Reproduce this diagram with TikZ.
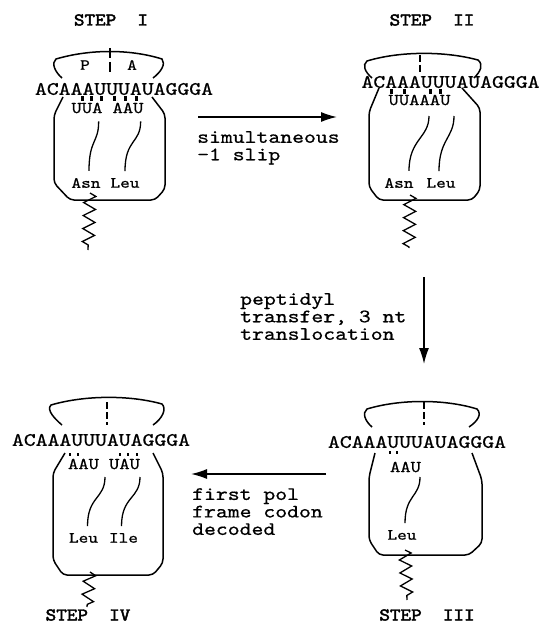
\documentclass[tikz,border=0pt]{standalone}
\usepackage{fontspec}
\usepackage{tikz}
\usetikzlibrary{arrows.meta,decorations.pathmorphing,calc}
\newfontfamily\cour[FakeStretch=1.19,FakeBold=0.7]{lmmono10-regular.otf}
\newfontfamily\courb[FakeStretch=1.12,FakeBold=2.6]{lmmono10-regular.otf}

\tikzset{
    ribo/.style={line width=1.5pt},
    stem/.style={line width=1.3pt},
    seq/.style={inner sep=0pt, font=\cour\fontsize{19}{19}\selectfont},
    anti/.style={inner sep=0pt, font=\cour\fontsize{16.5}{16.5}\selectfont},
    amino/.style={inner sep=0pt, font=\cour\fontsize{15.5}{15.5}\selectfont},
    steplabel/.style={inner sep=0pt, font=\courb\fontsize{18}{18}\selectfont},
    note/.style={inner sep=0pt, align=left, anchor=north west, font=\cour\fontsize{19}{17.5}\selectfont},
    pair/.style={line width=3pt},
    pairdot/.style={line width=2.4pt},
    divide/.style={line width=1.3pt, dash pattern=on 7pt off 3pt},
    chain/.style={line width=1.3pt, decorate, decoration={zigzag, amplitude=6pt, segment length=13pt}},
    flow/.style={line width=1.4pt, -{Latex[length=16pt,width=10pt]}}
}

\begin{document}
\begin{tikzpicture}[x=1pt, y=-1pt]
    \useasboundingbox (0,0) rectangle (544,626);

    % STEP I
    \node[steplabel] (stepI) at (111,20) {STEP~~I};
    \draw[ribo] (62,78) .. controls (55,72) and (51,63) .. (56,59) .. controls (90,49) and (130,49) .. (162,59) .. controls (166,64) and (161,72) .. (153,78); % cap
    \draw[ribo] (110,48) -- (110,58);
    \draw[ribo] (110,62) -- (110,72);
    \node[amino] (pI) at (85,65) {P};
    \node[amino] (aI) at (132,65) {A};
    \node[seq] (mrnaI) at (124,89) {ACAAAUUUAUAGGGA};
    \foreach \x in {82,91,101,114,125,136}
        \draw[pair] (\x,96) -- (\x,101);
    \node[anti] (acIa) at (87,108) {UUA};
    \node[anti] (acIb) at (128,108) {AAU};
    \node[amino] (aaIa) at (86,183) {Asn};
    \node[amino] (aaIb) at (125,183) {Leu};
    \draw[stem] ($(acIa.south east)+(-4,8)$) .. controls +(0,22) and +(0,-32) .. ($(aaIa.north)+(3,-7)$);
    \draw[stem] ($(acIb.south east)+(-3,8)$) .. controls +(0,22) and +(0,-32) .. ($(aaIb.north)+(0,-7)$);
    \draw[ribo, rounded corners=4pt] (63,97) -- (54,115) -- (54,183) -- (70,200) -- (155,200) -- (165,189) -- (165,114) -- (152,97); % body
    \draw[chain] (90,193) -- (88,250);

    % STEP II
    \node[steplabel] (stepII) at (432,20) {STEP~~II};
    \draw[ribo] (372,78) .. controls (365,72) and (362,65) .. (367,61) .. controls (400,51) and (445,51) .. (478,60) .. controls (484,65) and (480,72) .. (474,78); % cap
    \draw[divide] (420,55) -- (420,72);
    \node[seq] (mrnaII) at (450.5,82) {ACAAAUUUAUAGGGA};
    \foreach \x in {391,404,430,440}
        \draw[pair] (\x,89) -- (\x,94);
    \node[anti] (acII) at (419.5,100) {UUAAAU};
    \node[amino] (aaIIa) at (399,183) {Asn};
    \node[amino] (aaIIb) at (441,183) {Leu};
    \draw[stem] (429,116) .. controls +(0,22) and +(0,-32) .. ($(aaIIa.north)+(10,-7)$);
    \draw[stem] (454,116) .. controls +(0,22) and +(0,-32) .. ($(aaIIb.north)+(-2,-7)$);
    \draw[ribo, rounded corners=4pt] (379,88) -- (369,112) -- (369,187) -- (379,200) -- (472,200) -- (480,190) -- (480,108) -- (462,88); % body
    \draw[chain] (410,195) -- (409,248);

    % STEP III
    \node[steplabel] (stepIII) at (427,615) {STEP~~III};
    \draw[ribo] (372,427) .. controls (365,421) and (362,413) .. (367,409) .. controls (400,399) and (445,399) .. (477,409) .. controls (482,414) and (478,421) .. (469,427); % cap
    \draw[divide] (424,402) -- (424,425);
    \node[seq] (mrnaIII) at (417,442) {ACAAAUUUAUAGGGA};
    \foreach \x in {390,397}
        \draw[pairdot] (\x,451) -- (\x,454);
    \node[anti] (acIII) at (405.5,467) {AAU};
    \node[amino] (aaIII) at (402,535) {Leu};
    \draw[stem] (420,477) .. controls +(0,20) and +(0,-28) .. ($(aaIII.north)+(3,-7)$);
    \draw[ribo, rounded corners=4pt] (375,453) -- (369,477) -- (369,540) -- (379,555) -- (469,555) -- (482,543) -- (482,480) -- (472,453); % body
    \draw[chain] (405,550) -- (407,600);

    % STEP IV
    \node[steplabel] (stepIV) at (88,615) {STEP~~IV};
    \draw[ribo] (62,425) .. controls (55,419) and (46,410) .. (51,405) .. controls (85,395) and (130,395) .. (162,404) .. controls (167,409) and (162,419) .. (153,425); % cap
    \draw[divide] (107,402) -- (107,425);
    \node[seq] (mrnaIV) at (101,440) {ACAAAUUUAUAGGGA};
    \foreach \x in {70,78,120,128,137}
        \draw[pairdot] (\x,453) -- (\x,456);
    \node[anti] (acIVa) at (83.5,464) {AAU};
    \node[anti] (acIVb) at (124.5,464) {UAU};
    \node[amino] (aaIVa) at (83.5,538) {Leu};
    \node[amino] (aaIVb) at (123.5,538) {Ile};
    \draw[stem] (105,477) .. controls +(0,22) and +(0,-30) .. ($(aaIVa.north)+(4,-7)$);
    \draw[stem] (140,477) .. controls +(0,22) and +(0,-30) .. ($(aaIVb.north)+(-2,-7)$);
    \draw[ribo, rounded corners=4pt] (65,453) -- (53,473) -- (53,560) -- (63,575) -- (153,575) -- (163,563) -- (163,473) -- (153,453); % body
    \draw[chain] (90,572) -- (87,607);

    % arrows between steps
    \coordinate (slipA) at (198,117);
    \coordinate (slipB) at (337,117);
    \draw[flow] (slipA) -- (slipB);
    \node[note] (slipText) at (197,131) {simultaneous\\-1 slip};

    \coordinate (transA) at (424,277);
    \coordinate (transB) at (424,364);
    \draw[flow] (transA) -- (transB);
    \node[note] (transText) at (240,293) {peptidyl\\transfer, 3 nt\\translocation};

    \coordinate (decA) at (326,474);
    \coordinate (decB) at (191,474);
    \draw[flow] (decA) -- (decB);
    \node[note] (decText) at (192,488) {first pol\\frame codon\\decoded};
\end{tikzpicture}
\end{document}
